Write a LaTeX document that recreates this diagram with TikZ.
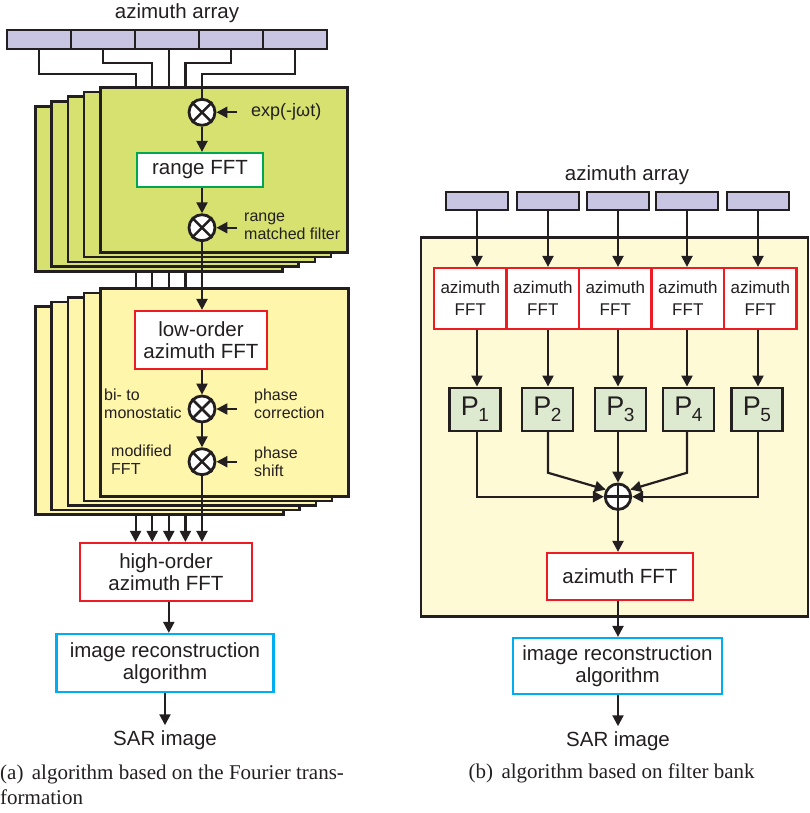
\documentclass[tikz,border=0pt]{standalone}
\usepackage{fontspec}
\setmainfont{Liberation Sans}
\newfontfamily\capfont{Liberation Serif}
\usetikzlibrary{arrows.meta,backgrounds}
\newcommand\fsz[2]{\fontsize{#1}{#2}\selectfont}
\newcommand\psub[1]{P\kern-0.5pt\raisebox{-6pt}{\fsz{19}{19}#1}}
\definecolor{gsh}{RGB}{214,225,112}
\definecolor{ysh}{RGB}{254,246,170}
\definecolor{ybox}{RGB}{255,250,214}
\definecolor{lav}{RGB}{199,197,225}
\definecolor{pgreen}{RGB}{221,234,208}
\definecolor{bgreen}{RGB}{0,166,80}
\definecolor{bred}{RGB}{237,28,36}
\definecolor{bcyan}{RGB}{0,174,239}
\definecolor{ink}{RGB}{35,31,32}
\begin{document}
\begin{tikzpicture}[x=1pt,y=-1pt,
  every node/.style={text=ink},
  conn/.style={draw=ink,line width=2.2pt},
  arr/.style={conn,-{Triangle[length=11pt,width=11pt]}},
  gsheet/.style={draw=ink,line width=2.7pt,fill=gsh,anchor=north west,minimum width=247pt,minimum height=165pt,inner sep=0pt},
  ysheet/.style={draw=ink,line width=2.7pt,fill=ysh,anchor=north west,minimum width=248pt,minimum height=208pt,inner sep=0pt},
  bank/.style={draw=ink,line width=2.7pt,fill=ybox,minimum width=387pt,minimum height=379pt,inner sep=0pt},
  cellL/.style={draw=ink,line width=2.2pt,fill=lav,minimum width=64pt,minimum height=19pt,inner sep=0pt},
  cellR/.style={draw=ink,line width=2.2pt,fill=lav,minimum width=62pt,minimum height=18.5pt,inner sep=0pt},
  mult/.style={circle,draw=ink,line width=2.8pt,fill=white,minimum size=26pt,inner sep=0pt},
  boxbase/.style={line width=2.2pt,fill=white,inner sep=0pt,align=center,font=\fsz{20.5}{22}},
  boxG/.style={boxbase,draw=bgreen},
  boxR/.style={boxbase,draw=bred},
  boxC/.style={boxbase,draw=bcyan},
  boxAz/.style={boxbase,draw=bred,font=\fsz{17}{22},minimum width=72.5pt,minimum height=61pt},
  pbox/.style={draw=ink,line width=2.2pt,fill=pgreen,minimum width=51pt,minimum height=43.3pt,inner sep=0pt,font=\fsz{27}{27}},
  txt/.style={inner sep=0pt,font=\fsz{20.5}{22}},
  sartxt/.style={inner sep=5pt,font=\fsz{20.5}{22}},
  lbl/.style={inner sep=0pt,font=\fsz{16}{18},align=left,anchor=west},
  captxt/.style={inner sep=0pt,font=\capfont\fsz{21}{25},align=left}
]
\useasboundingbox (0,0) rectangle (810,813);

% ---------------- left panel ----------------
\node[txt] (tA) at (177,13) {azimuth array};
\foreach \i/\x in {1/39,2/103,3/167,4/231,5/295}
  \node[cellL] (a\i) at (\x,39.5) {};

\foreach \k/\x in {0/202,1/185.4,2/168.8,3/152.2,4/135.6}
  \coordinate (x\k) at (\x,0);

% stacked sheets
\foreach \k in {4,3,2,1,0}
  \node[gsheet] (gs\k) at ({99-16.25*\k},{86+4.75*\k}) {};
\foreach \k in {4,3,2,1,0}
  \node[ysheet] (ys\k) at ({99-16.25*\k},{287+4.5*\k}) {};

% front sheet contents
\node[mult] (m1) at (202,112.3) {};
\node[boxG,minimum width=126pt,minimum height=34pt] (rfft) at (200,170) {range FFT};
\node[mult] (m2) at (202,227.7) {};
\node[boxR,minimum width=132pt,minimum height=58pt] (lo) at (201,340) {low-order\\azimuth FFT};
\node[mult] (m3) at (202,409) {};
\node[mult] (m4) at (202,461.7) {};
\node[boxR,minimum width=172pt,minimum height=58pt] (hi) at (166,572) {high-order\\azimuth FFT};
\node[boxC,minimum width=217pt,minimum height=58pt] (rec) at (165,663) {image reconstruction\\algorithm};
\node[sartxt] (sar) at (165,740) {SAR image};

% array to sheets
\draw[conn] (a1.south) -- ++(0,24) -| (x4 |- gs0.north);
\draw[conn] (a2.south) -- ++(0,13) -| (x3 |- gs0.north);
\draw[conn] (x2 |- a3.south) -- (x2 |- gs0.north);
\draw[conn] (a4.south) -- ++(0,13) -| (x1 |- gs0.north);
\draw[conn] (a5.south) -- ++(0,24) -| (m1.north);

% main chain
\draw[arr] (m1.south) -- (m1.south |- rfft.north);
\draw[arr] (m1.south |- rfft.south) -- (m2.north);
\draw[arr] (m2.south) -- (m2.south |- lo.north);
\draw[arr] (m2.south |- lo.south) -- (m3.north);
\draw[arr] (m3.south) -- (m4.north);
\draw[arr] (m4.south) -- (m4.south |- hi.north);
\draw[arr] (x2 |- hi.south) -- (x2 |- rec.north);
\draw[arr] (rec.south) -- (rec.south |- sar.north);

% side inputs
\foreach \m/\y in {m1/112.3,m2/227.7,m3/409,m4/461.7}{
  \coordinate (e\m) at (237,\y);
  \draw[arr] (e\m) -- (\m.east);
  \draw[conn,line width=2.5pt] (\m.45) -- (\m.225) (\m.135) -- (\m.315);
}

% lines of the back sheets
\begin{scope}[on background layer]
\foreach \k in {1,2,3,4}{
  \draw[conn] (x\k |- gs\k.south) -- (x\k |- ys0.north);
  \draw[arr] (x\k |- ys\k.south) -- (x\k |- hi.north);
}
\end{scope}

% labels
\node[lbl,font=\fsz{18}{20}] (l1) at (251,112.3) {exp(-jωt)};
\node[lbl] (l2) at (244,226) {range\\matched filter};
\node[lbl] (l3) at (104,404) {bi- to\\monostatic};
\node[lbl] (l4) at (254,404) {phase\\correction};
\node[lbl] (l5) at (111,460) {modified\\FFT};
\node[lbl] (l6) at (254,462) {phase\\shift};

\node[captxt,anchor=north west] (capA) at (0,765) {(a)\hspace{0.4em}algorithm based on the Fourier trans-\\formation};

% ---------------- right panel ----------------
\node[txt] (tB) at (627,175) {azimuth array};
\node[bank] (bank) at (614.5,427.2) {};
\foreach \i/\x in {1/477,2/548,3/618,4/687,5/758}
  \node[cellR] (b\i) at (\x,201) {};
\foreach \i/\x in {1/470.3,2/542.8,3/615.3,4/687.8,5/760.3}
  \node[boxAz] (f\i) at (\x,298.5) {azimuth\\FFT};
\foreach \i/\x in {1/475,2/547.5,3/620.5,4/688.5,5/757}
  \node[pbox] (p\i) at (\x,409.3) {\psub{\i}};
\foreach \i in {1,...,5}{
  \draw[arr] (b\i.south) -- (b\i.south |- f\i.north);
  \draw[arr] (b\i.south |- f\i.south) -- (b\i.south |- p\i.north);
}
\node[mult,minimum size=25.5pt] (s) at (618,496.7) {};
\draw[conn,line width=2.5pt] (s.north) -- (s.south) (s.east) -- (s.west);
\draw[arr] (b1.south |- p1.south) |- (s.west);
\draw[arr] (b5.south |- p5.south) |- (s.east);
\draw[arr] (b2.south |- p2.south) -- ++(0,40.7) -- (s.150);
\draw[arr] (b4.south |- p4.south) -- ++(0,40.7) -- (s.30);
\draw[arr] (b3.south |- p3.south) -- (s.north);

\node[boxR,minimum width=145.7pt,minimum height=47pt] (af) at (619.9,576.5) {azimuth FFT};
\draw[arr] (s.south) -- (s.south |- af.north);
\node[boxC,minimum width=209pt,minimum height=56pt] (rec2) at (617.5,666) {image reconstruction\\algorithm};
\draw[arr] (s.south |- af.south) -- (s.south |- rec2.north);
\node[sartxt] (sar2) at (618,741) {SAR image};
\draw[arr] (s.south |- rec2.south) -- (sar2.north);

\node[captxt,anchor=base] (capB) at (611.7,778) {(b)\hspace{0.4em}algorithm based on filter bank};
\end{tikzpicture}
\end{document}
